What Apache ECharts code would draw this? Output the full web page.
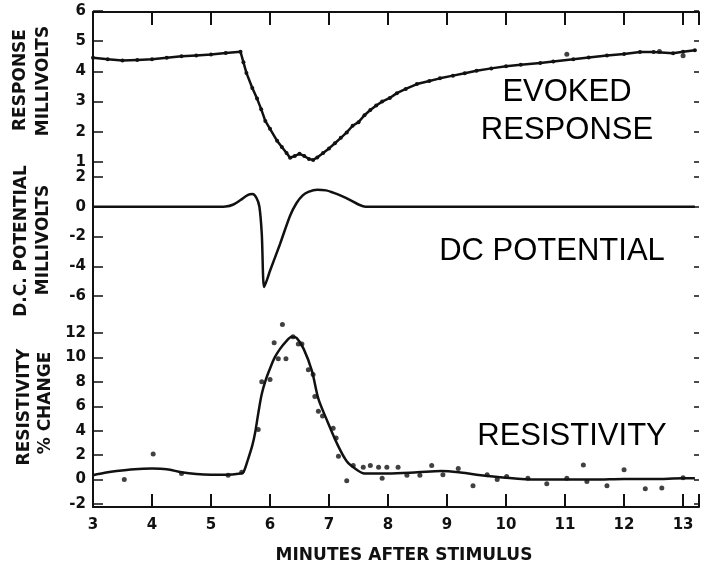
<!DOCTYPE html>
<html>
<head>
<meta charset="utf-8">
<script src="https://cdn.jsdelivr.net/npm/echarts@6/dist/echarts.min.js"></script>
<style>
  html, body { margin: 0; padding: 0; background: #fff; }
  #main { width: 702px; height: 564px; }
</style>
</head>
<body>
<div id="main"></div>
<script type="text/javascript">
  // minutes after stimulus (shared x scale)
  var xMin = 3, xMax = 13.27;

  // evoked response, millivolts
  var evokedX = [3.0, 3.25, 3.5, 3.75, 4.0, 4.25, 4.5, 4.75, 5.0, 5.25, 5.5, 5.55, 5.6, 5.7, 5.78, 5.85, 5.92, 6.0, 6.12, 6.2,
    6.28, 6.34, 6.42, 6.5, 6.58, 6.66, 6.73, 6.8, 6.9, 7.0, 7.1, 7.2, 7.3, 7.4, 7.5, 7.6, 7.7, 7.8, 7.9, 8.03,
    8.15, 8.3, 8.49, 8.7, 8.88, 9.1, 9.3, 9.5, 9.75, 10.0, 10.25, 10.58, 10.8, 11.14, 11.4, 11.71, 12.0, 12.27, 12.5, 12.83,
    13.0, 13.2];
  var evokedY = [4.45, 4.4, 4.36, 4.38, 4.4, 4.45, 4.5, 4.53, 4.56, 4.61, 4.65, 4.3, 3.95, 3.45, 3.1, 2.75, 2.36, 2.1, 1.7, 1.5,
    1.3, 1.14, 1.2, 1.27, 1.2, 1.1, 1.07, 1.15, 1.3, 1.45, 1.62, 1.8, 1.98, 2.2, 2.32, 2.55, 2.72, 2.87, 3.0, 3.12,
    3.28, 3.42, 3.58, 3.68, 3.77, 3.86, 3.94, 4.02, 4.1, 4.17, 4.22, 4.28, 4.33, 4.4, 4.46, 4.53, 4.58, 4.64, 4.64, 4.6,
    4.65, 4.7];
  var evokedDotX = [11.03, 12.6, 13.0];
  var evokedDotY = [4.57, 4.66, 4.52];

  // d.c. potential, millivolts
  var dcX = [3.0, 4.0, 5.0, 5.25, 5.38, 5.5, 5.62, 5.7, 5.77, 5.82, 5.86, 5.9, 5.95, 6.0, 6.17, 6.34, 6.45, 6.55, 6.65, 6.8,
    6.95, 7.07, 7.2, 7.36, 7.5, 7.62, 9.0, 11.0, 13.2];
  var dcY = [0, 0, 0, 0.02, 0.15, 0.45, 0.78, 0.85, 0.6, 0.0, -1.8, -5.4, -4.9, -4.3, -2.5, -0.6, 0.25, 0.75, 1.0, 1.15,
    1.1, 0.95, 0.75, 0.45, 0.15, 0, 0, 0, 0];

  // resistivity, % change (fitted curve)
  var resX = [3.0, 3.2, 3.4, 3.7, 4.0, 4.25, 4.5, 4.75, 5.0, 5.25, 5.5, 5.55, 5.63, 5.7, 5.75, 5.8, 5.86, 5.93, 6.0, 6.08,
    6.17, 6.27, 6.37, 6.45, 6.57, 6.71, 6.82, 6.97, 7.14, 7.3, 7.47, 7.6, 8.0, 8.5, 8.9, 9.2, 9.5, 10.0, 10.5, 11.0,
    11.5, 12.0, 12.5, 13.0, 13.2];
  var resY = [0.35, 0.55, 0.7, 0.85, 0.9, 0.85, 0.6, 0.45, 0.4, 0.4, 0.5, 0.6, 1.7, 2.8, 3.9, 5.4, 7.0, 8.2, 9.1, 10.0,
    10.7, 11.3, 11.7, 11.6, 10.7, 8.9, 6.6, 4.8, 2.9, 1.5, 0.8, 0.5, 0.5, 0.6, 0.7, 0.6, 0.4, 0.15, 0.0, 0.0,
    0.0, 0.05, 0.05, 0.1, 0.1];

  // resistivity, measured points
  var resDotX = [3.53, 4.02, 4.5, 5.29, 5.52, 5.8, 5.86, 6.0, 6.07, 6.14, 6.21, 6.27, 6.39, 6.48, 6.54, 6.65, 6.73, 6.76, 6.82, 6.89,
    7.07, 7.12, 7.16, 7.3, 7.41, 7.58, 7.7, 7.84, 7.9, 7.98, 8.17, 8.32, 8.54, 8.74, 8.93, 9.19, 9.44, 9.68, 9.85, 10.01,
    10.37, 10.69, 11.03, 11.31, 11.37, 11.71, 12.0, 12.36, 12.64, 13.0];
  var resDotY = [0.0, 2.1, 0.5, 0.35, 0.6, 4.1, 8.0, 8.2, 11.2, 9.9, 12.7, 9.9, 11.7, 11.1, 11.1, 9.0, 8.6, 6.8, 5.6, 5.2,
    4.2, 3.4, 1.9, -0.1, 1.15, 1.0, 1.15, 1.0, 0.1, 1.0, 1.0, 0.35, 0.35, 1.15, 0.4, 0.9, -0.5, 0.4, 0.0, 0.25,
    0.1, -0.35, 0.1, 1.2, -0.15, -0.5, 0.8, -0.75, -0.7, 0.15];

  function pairs(xs, ys) {
    return xs.map(function (x, i) { return [x, ys[i]]; });
  }

  var ink = '#111';
  var axisFont = { color: ink, fontFamily: 'DejaVu Sans', fontWeight: 'bold', fontSize: 15 };
  var nameFont = { fill: ink, fontFamily: 'DejaVu Sans', fontWeight: 'bold', fontSize: 17 };
  var bigFont = { fill: '#000', fontFamily: 'Liberation Sans', fontSize: 31 };

  function leftAxis(grid, min, max, step) {
    return {
      type: 'value', gridIndex: grid, position: 'left', min: min, max: max, interval: step,
      axisLine: { show: false },
      axisTick: { show: true, inside: true, length: 10, lineStyle: { color: ink, width: 1.5 } },
      axisLabel: $.extend({ margin: 7 }, axisFont),
      splitLine: { show: false }
    };
  }
  function rightAxis(grid, min, max, step) {
    return {
      type: 'value', gridIndex: grid, position: 'right', min: min, max: max, interval: step,
      axisLine: { show: false },
      axisTick: { show: true, inside: true, length: 5, lineStyle: { color: ink, width: 1.5 } },
      axisLabel: { show: false },
      splitLine: { show: false }
    };
  }
  function hiddenX(grid) {
    return { type: 'value', gridIndex: grid, min: xMin, max: xMax, show: false };
  }
  function vtext(x, y, text, style) {
    return {
      type: 'text', x: x, y: y, rotation: Math.PI / 2,
      style: $.extend({ text: text, textAlign: 'center', textVerticalAlign: 'middle' }, style)
    };
  }
  function htext(x, y, text) {
    return {
      type: 'text', x: x, y: y,
      style: $.extend({ text: text, textAlign: 'center', textVerticalAlign: 'middle' }, bigFont)
    };
  }

  // tiny stand-in for jQuery's shallow extend
  var $ = { extend: function (a, b) { for (var k in b) { a[k] = b[k]; } return a; } };

  var chart = echarts.init(document.getElementById('main'));
  chart.setOption({
    animation: false,
    backgroundColor: '#fff',
    grid: [
      { left: 93, width: 606, top: 12, height: 495 },   // outer frame
      { left: 93, width: 606, top: 11, height: 151 },   // evoked response
      { left: 93, width: 606, top: 177, height: 119 },  // dc potential
      { left: 93, width: 606, top: 333, height: 171 }   // resistivity
    ],
    xAxis: [
      {
        type: 'value', gridIndex: 0, position: 'bottom', min: xMin, max: xMax, interval: 1,
        axisLine: { show: true, onZero: false, lineStyle: { color: ink, width: 2 } },
        axisTick: { show: true, inside: true, length: 13, lineStyle: { color: ink, width: 2 } },
        axisLabel: $.extend({
          margin: 11,
          formatter: function (v) { return v % 1 === 0 ? String(v) : ''; }
        }, axisFont),
        splitLine: { show: false }
      },
      {
        type: 'value', gridIndex: 0, position: 'top', min: xMin, max: xMax, interval: 1,
        axisLine: { show: true, onZero: false, lineStyle: { color: ink, width: 2 } },
        axisTick: { show: true, inside: true, length: 13, lineStyle: { color: ink, width: 2 } },
        axisLabel: { show: false },
        splitLine: { show: false }
      },
      hiddenX(1), hiddenX(2), hiddenX(3)
    ],
    yAxis: [
      {
        type: 'value', gridIndex: 0, position: 'left', min: 0, max: 1,
        axisLine: { show: true, onZero: false, lineStyle: { color: ink, width: 2 } },
        axisTick: { show: false }, axisLabel: { show: false }, splitLine: { show: false }
      },
      leftAxis(1, 1, 6, 1), rightAxis(1, 1, 6, 1),
      leftAxis(2, -6, 2, 2), rightAxis(2, -6, 2, 2),
      leftAxis(3, -2, 12, 2), rightAxis(3, -2, 12, 2)
    ],
    series: [
      {
        type: 'line', xAxisIndex: 2, yAxisIndex: 1, data: pairs(evokedX, evokedY),
        symbol: 'circle', symbolSize: 4, showSymbol: true,
        lineStyle: { color: ink, width: 2.5 }, itemStyle: { color: ink }
      },
      {
        type: 'scatter', xAxisIndex: 2, yAxisIndex: 1, data: pairs(evokedDotX, evokedDotY),
        symbolSize: 5, itemStyle: { color: ink }
      },
      {
        type: 'line', xAxisIndex: 3, yAxisIndex: 3, data: pairs(dcX, dcY),
        smooth: 0.3, showSymbol: false, lineStyle: { color: ink, width: 2.5 }
      },
      {
        type: 'line', xAxisIndex: 4, yAxisIndex: 5, data: pairs(resX, resY),
        smooth: 0.3, showSymbol: false, lineStyle: { color: ink, width: 2.5 }
      },
      {
        type: 'scatter', xAxisIndex: 4, yAxisIndex: 5, data: pairs(resDotX, resDotY),
        symbolSize: 5, clip: false, itemStyle: { color: ink }
      }
    ],
    graphic: [
      vtext(21, 80, 'RESPONSE', nameFont),
      vtext(44, 81, 'MILLIVOLTS', nameFont),
      vtext(22, 241, 'D.C. POTENTIAL', nameFont),
      vtext(44, 240, 'MILLIVOLTS', nameFont),
      vtext(25, 407, 'RESISTIVITY', nameFont),
      vtext(46, 403, '% CHANGE', nameFont),
      htext(567, 92, 'EVOKED'),
      htext(567, 130, 'RESPONSE'),
      htext(552, 251, 'DC POTENTIAL'),
      htext(572, 436, 'RESISTIVITY'),
      {
        type: 'text', x: 404, y: 556,
        style: $.extend({ text: 'MINUTES AFTER STIMULUS', textAlign: 'center', textVerticalAlign: 'middle' },
          $.extend({}, nameFont))
      }
    ]
  });
</script>
</body>
</html>
